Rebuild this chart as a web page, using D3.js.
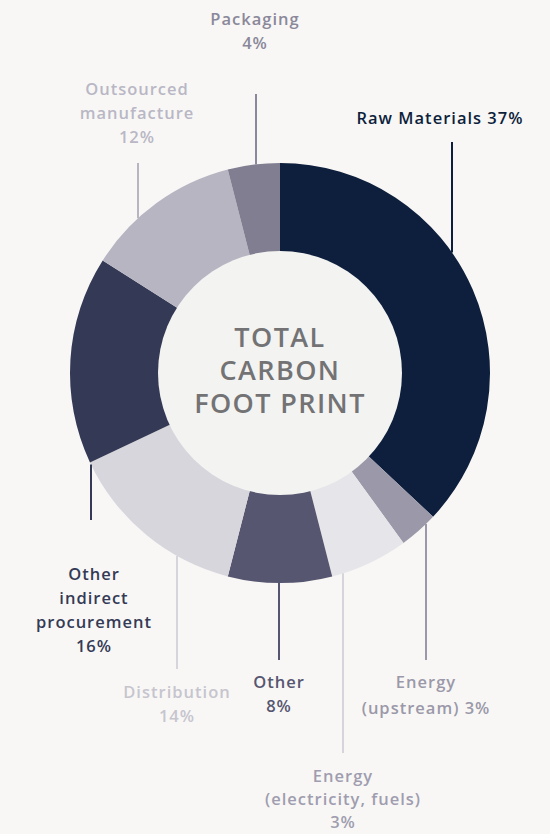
<!DOCTYPE html>
<html>
<head>
<meta charset="utf-8">
<script src="https://cdn.jsdelivr.net/npm/d3@7"></script>
<style>
  html, body { margin: 0; padding: 0; background: #f8f7f5; }
  svg { display: block; }
  text { font-family: "Open Sans", "DejaVu Sans", sans-serif; font-weight: 600; }
</style>
</head>
<body>
<svg id="svg" width="550" height="834"></svg>
<script>
// slice shares as drawn (the electricity slice is drawn wider than its label says)
const categories = ["Raw Materials", "Energy (upstream)", "Energy (electricity, fuels)", "Other",
  "Distribution", "Other indirect procurement", "Outsourced manufacture", "Packaging"];
const values = [37, 3, 6, 8, 14, 16, 12, 4];
const pctLabels = ["37%", "3%", "3%", "8%", "14%", "16%", "12%", "4%"];
const colors = ["#0d1f3c", "#9b99a9", "#e6e5e9", "#575670", "#d7d6dc", "#343a55", "#b7b5c2", "#807e90"];
const textColors = ["#0d1f3c", "#9b99a9", "#9f9daf", "#575670", "#c6c5ce", "#343a55", "#b9b7c5", "#8a889a"];
const lineColors = ["#0d1f3c", "#9b99a9", "#d6d5dc", "#575670", "#d6d5dc", "#343a55", "#b7b5c2", "#8a889a"];

// label layout: leader x, far end of leader, text lines, first baseline, line step
const layout = [
  { x: 452, end: 142, lines: ["Raw Materials 37%"], y: 124, tx: 440, step: 24 },
  { x: 426, end: 660, lines: ["Energy", "(upstream) 3%"], y: 688, step: 26 },
  { x: 343, end: 753, lines: ["Energy", "(electricity, fuels)", "3%"], y: 782, step: 23 },
  { x: 279, end: 660, lines: ["Other", "8%"], y: 688, step: 24 },
  { x: 177, end: 669, lines: ["Distribution", "14%"], y: 698, step: 24 },
  { x: 91, end: 520, lines: ["Other", "indirect", "procurement", "16%"], y: 580, tx: 94, step: 24 },
  { x: 138, end: 163, lines: ["Outsourced", "manufacture", "12%"], y: 95, tx: 137, step: 24 },
  { x: 256, end: 94, lines: ["Packaging", "4%"], y: 25, tx: 255, step: 24 }
];

const svg = d3.select("#svg");
const cx = 280, cy = 373, outerR = 210, innerR = 122;
const g = svg.append("g").attr("transform", `translate(${cx},${cy})`);

const pie = d3.pie().sort(null).value((d) => d.v);
const arc = d3.arc().innerRadius(innerR - 2).outerRadius(outerR);
const data = values.map((v, i) => ({ v, i }));

g.selectAll("path.slice")
  .data(pie(data))
  .enter()
  .append("path")
  .attr("class", "slice")
  .attr("d", arc)
  .attr("fill", (d) => colors[d.data.i]);

// center disc
g.append("circle").attr("r", innerR).attr("fill", "#f3f3f2");

const center = ["TOTAL", "CARBON", "FOOT PRINT"];
g.selectAll("text.center")
  .data(center)
  .enter()
  .append("text")
  .attr("class", "center")
  .attr("text-anchor", "middle")
  .attr("y", (d, i) => -26 + i * 33)
  .attr("fill", "#737375")
  .style("font-size", "27px")
  .style("font-weight", "600")
  .style("letter-spacing", "1.4px")
  .text((d) => d);

// leaders and labels
layout.forEach((l, i) => {
  const dx = l.x - cx;
  const ring = Math.sqrt(outerR * outerR - dx * dx);
  const ringY = l.end < cy ? cy - ring : cy + ring;
  svg.append("line")
    .attr("x1", l.x).attr("x2", l.x)
    .attr("y1", ringY).attr("y2", l.end)
    .attr("stroke", lineColors[i])
    .attr("stroke-width", 2);

  const t = svg.append("text")
    .attr("text-anchor", "middle")
    .attr("fill", textColors[i])
    .style("font-size", "16.5px")
    .style("letter-spacing", "1px");
  l.lines.forEach((s, k) => {
    t.append("tspan")
      .attr("x", l.tx || l.x)
      .attr("y", l.y + k * l.step)
      .text(s);
  });
});
</script>
</body>
</html>
